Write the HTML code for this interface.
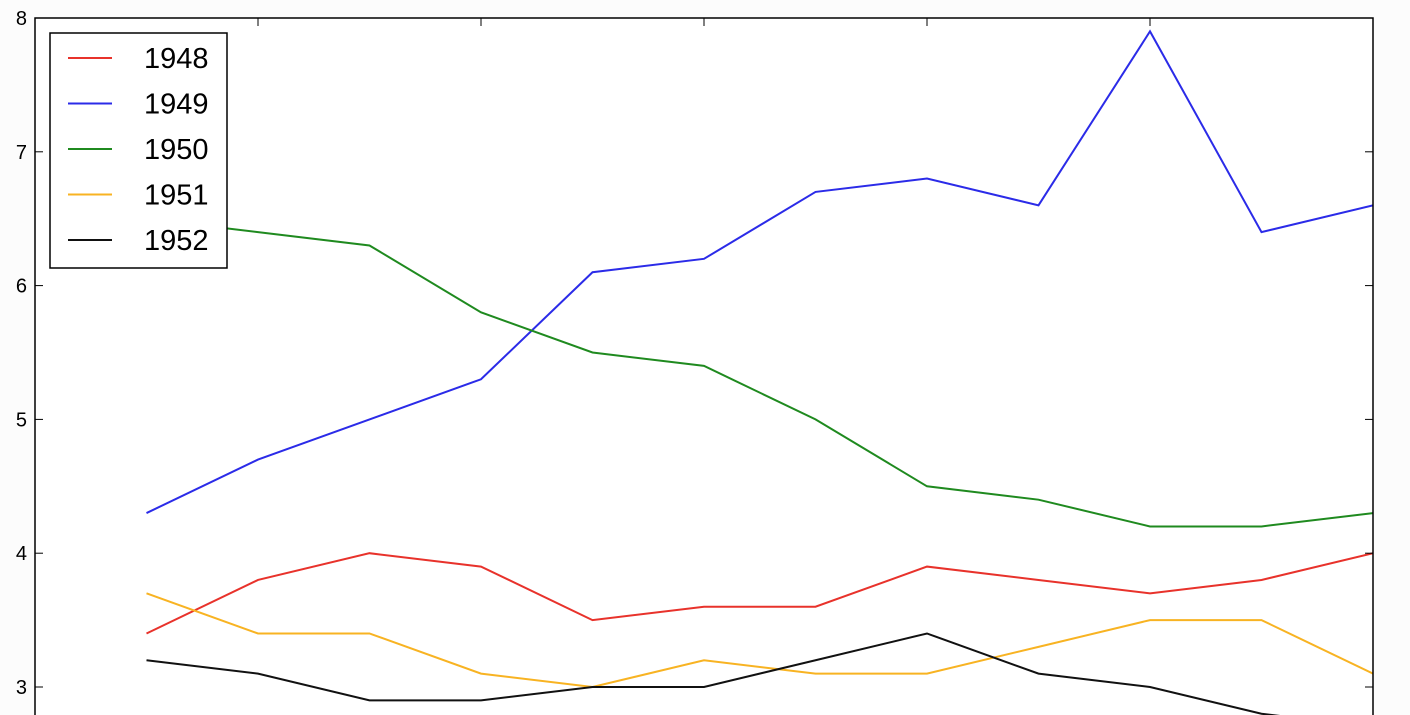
<!DOCTYPE html>
<html><head><meta charset="utf-8"><style>
html,body{margin:0;padding:0;background:#fcfcfc;}
svg{display:block;font-family:"Liberation Sans",sans-serif;}
</style></head><body>
<svg id="chart" width="1410" height="715"></svg>
<script>
const xIndex=[0,1,2,3,4,5,6,7,8,9,10,11];
const seriesNames=["1948","1949","1950","1951","1952"];
const seriesColors=["#e8322b","#2b2be8","#1f8a1f","#f8b322","#111111"];
const s1948=[3.4,3.8,4.0,3.9,3.5,3.6,3.6,3.9,3.8,3.7,3.8,4.0];
const s1949=[4.3,4.7,5.0,5.3,6.1,6.2,6.7,6.8,6.6,7.9,6.4,6.6];
const s1950=[6.5,6.4,6.3,5.8,5.5,5.4,5.0,4.5,4.4,4.2,4.2,4.3];
const s1951=[3.7,3.4,3.4,3.1,3.0,3.2,3.1,3.1,3.3,3.5,3.5,3.1];
const s1952=[3.2,3.1,2.9,2.9,3.0,3.0,3.2,3.4,3.1,3.0,2.8,2.7];
const yTicks=[3,4,5,6,7,8];
const xTicks=[-1,1,3,5,7,9,11];
const allSeries=[s1948,s1949,s1950,s1951,s1952];

const NS="http://www.w3.org/2000/svg";
const svg=document.getElementById('chart');
const L=35,R=1373,T=18,B=687;
const xs=v=>L+(v+1)/12*(R-L);
const ys=v=>B-(v-3)/5*(B-T);
function mk(tag,attrs,parent){const e=document.createElementNS(NS,tag);for(const k in attrs)e.setAttribute(k,attrs[k]);(parent||svg).appendChild(e);return e;}

const clip=mk('clipPath',{id:'plotclip'});
mk('rect',{x:L,y:0,width:R-L,height:715},clip);
const bg=mk('rect',{x:L,y:T,width:R-L,height:715-T,fill:'#ffffff'});



const g=mk('g',{'clip-path':'url(#plotclip)'});
allSeries.forEach((s,i)=>{
  const p=mk('polyline',{points:s.map((v,j)=>xs(xIndex[j])+','+ys(v)).join(' '),fill:'none',stroke:seriesColors[i],'stroke-width':2},g);
  
  
});

const fr=mk('path',{d:`M${L},715 L${L},${T} L${R},${T} L${R},715`,fill:'none',stroke:'#000','stroke-width':1.5});



yTicks.forEach(v=>{
  const y=ys(v);
  mk('line',{x1:L,x2:L+8,y1:y,y2:y,stroke:'#000'});
  mk('line',{x1:R-8,x2:R,y1:y,y2:y,stroke:'#000'});
  const t=mk('text',{x:L-8,y:y+7,'text-anchor':'end','font-size':20,fill:'#000'});
  t.textContent=v;
  
  
});
xTicks.forEach(v=>{
  const x=xs(v);
  mk('line',{x1:x,x2:x,y1:T,y2:T+8,stroke:'#000'});
});

const lg=mk('g',{});


mk('rect',{x:50,y:33,width:177,height:235,fill:'#fff',stroke:'#000','stroke-width':1.5},lg);
seriesNames.forEach((n,i)=>{
  const y=58+i*45.5;
  const e=mk('g',{},lg);
  
  
  mk('line',{x1:68,x2:112,y1:y,y2:y,stroke:seriesColors[i],'stroke-width':2},e);
  const t=mk('text',{x:144,y:y+10,'font-size':29,fill:'#000'},e);
  t.textContent=n;
});
</script>
</body></html>
